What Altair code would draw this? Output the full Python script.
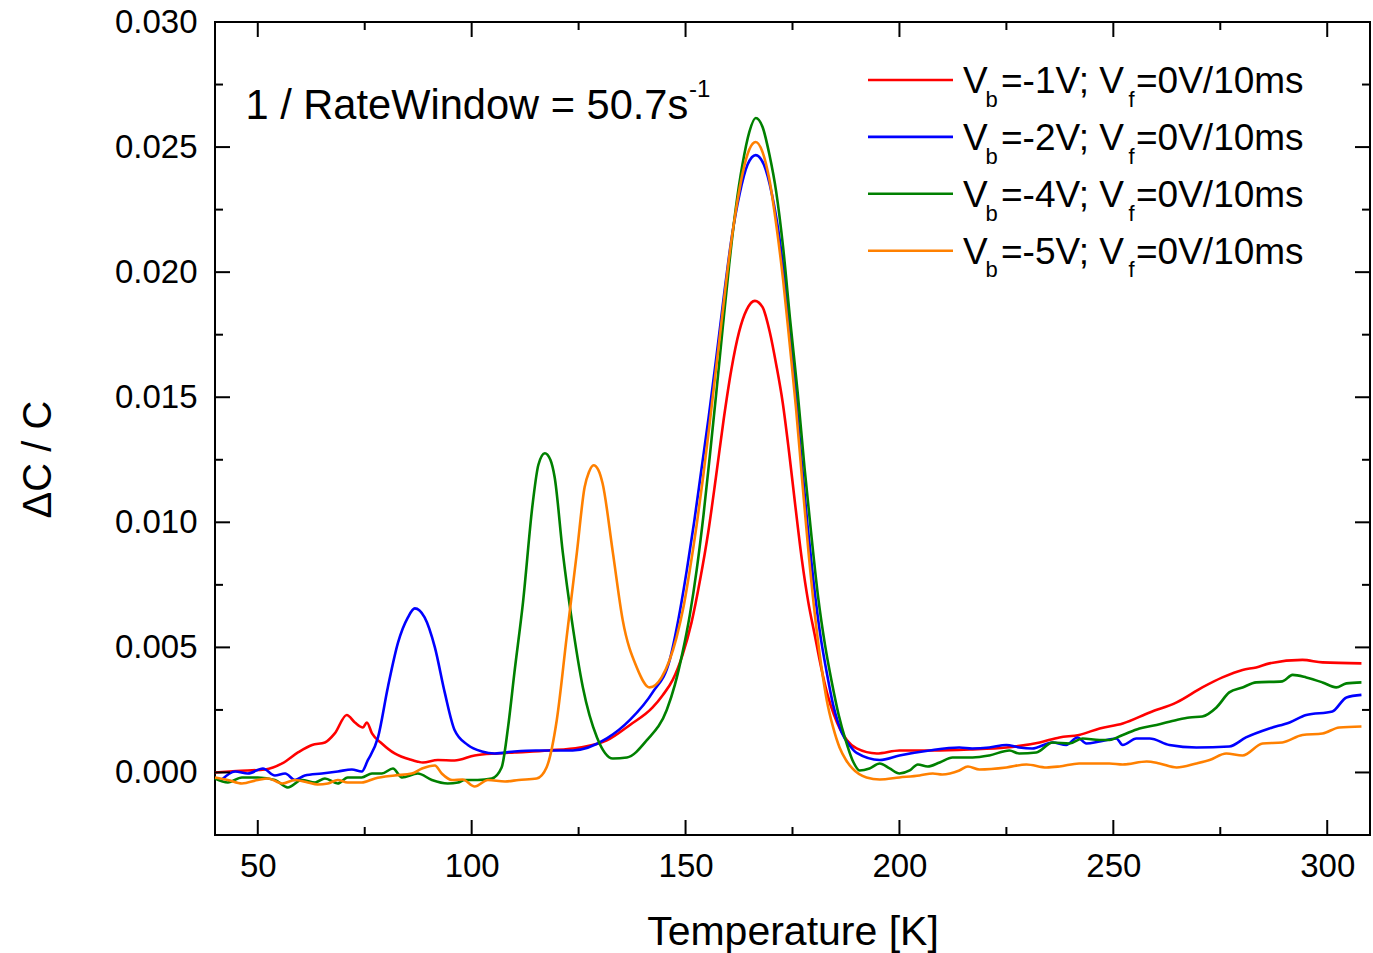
import altair as alt
import pandas as pd

FONT = "Liberation Sans"

series_names = ["Vb=-1V", "Vb=-2V", "Vb=-4V", "Vb=-5V"]
series_colors = ["#ff0000", "#0000ff", "#008000", "#ff8000"]

red = [(40, 0.0), (45, 0.00006), (51.7, 0.00012), (55.7, 0.00036), (59.4, 0.0008), (62.7, 0.0011),
       (65.7, 0.0012), (68, 0.00156), (70.8, 0.0023), (72.7, 0.0020), (74.6, 0.0018), (75.5, 0.0020),
       (76.7, 0.00156), (79, 0.00116), (82, 0.00076), (86, 0.0005), (88.6, 0.0004), (92.1, 0.0005),
       (96, 0.00048), (100.7, 0.00068), (106, 0.00076), (110, 0.0008), (118, 0.00088), (125.3, 0.001),
       (131.6, 0.00128), (137, 0.0019), (142.3, 0.0026), (144.7, 0.0031), (147, 0.0037), (149.3, 0.0047),
       (151.4, 0.0060), (153.4, 0.0077), (155.3, 0.0096), (157.1, 0.0118), (158.9, 0.0141), (160.7, 0.0161),
       (162.5, 0.0176), (164.3, 0.0185), (166.2, 0.01885), (168, 0.0186), (169.7, 0.0176), (171.2, 0.0163),
       (172.7, 0.0148), (174.2, 0.0128), (175.7, 0.0106), (177.2, 0.0085), (178.7, 0.0068), (180.2, 0.0055),
       (181.7, 0.0042), (183.2, 0.0031), (184.7, 0.0023), (186.2, 0.0017), (187.7, 0.0013), (190, 0.00096),
       (194.7, 0.00076), (200, 0.00088), (207.8, 0.00088), (216.4, 0.00092), (225, 0.001), (232.8, 0.0012),
       (237.4, 0.0014), (242, 0.0015), (246.8, 0.00176), (252.2, 0.00196), (258.5, 0.0024), (264.8, 0.0028),
       (270.8, 0.0034), (275.5, 0.0038), (280.2, 0.0041), (283.4, 0.0042), (286.5, 0.00436), (294.2, 0.0045),
       (298.9, 0.0044), (308, 0.00436)]

blue = [(41.5, -0.0003), (44.7, 0.00004), (47.7, -0.00004), (51.2, 0.00016), (54, -0.00012), (56.4, -0.00004),
        (58.7, -0.0003), (61, -0.00012), (65, -0.00004), (68.7, 0.00004), (72, 0.00012), (74.3, 0.00004),
        (75.7, 0.00048), (78.1, 0.0014), (80.4, 0.0034), (82.8, 0.0052), (85.1, 0.0062), (86.7, 0.00656),
        (89, 0.0062), (91.4, 0.005), (93.7, 0.0032), (96, 0.0017), (99.1, 0.0011), (102.4, 0.00084),
        (105.4, 0.00076), (110, 0.00084), (115, 0.00088), (123.6, 0.00088), (131.6, 0.00136), (137, 0.0021),
        (142.3, 0.0032), (146.3, 0.0045), (148.3, 0.0061), (150.3, 0.0081), (152, 0.0100), (153.7, 0.0121),
        (155.4, 0.0142), (157.2, 0.0166), (159, 0.0191), (160.8, 0.0214), (162.6, 0.0231), (164.5, 0.0243),
        (166.4, 0.02468), (168.3, 0.0243), (170.2, 0.0231), (172, 0.0213), (173.8, 0.0187), (175.5, 0.0157),
        (177, 0.0127), (178.5, 0.0099), (180, 0.0075), (181.5, 0.0055), (183, 0.0040), (184.5, 0.0027),
        (186.5, 0.0016), (188.5, 0.00105), (190, 0.00078), (195.4, 0.0005), (200, 0.00068), (207, 0.00088),
        (214, 0.001), (217, 0.00096), (221, 0.001), (225, 0.0011), (228, 0.001), (231, 0.00096), (235.8, 0.0012),
        (239, 0.0011), (241.6, 0.0014), (243.7, 0.00116), (246.8, 0.00124), (250.7, 0.00136), (252.2, 0.0011),
        (255.4, 0.00136), (258.5, 0.00136), (263.1, 0.0011), (269.4, 0.001), (277.1, 0.00104), (281, 0.0014),
        (286.5, 0.00176), (291.2, 0.002), (295.1, 0.0023), (301.2, 0.00244), (304.5, 0.003), (308, 0.0031)]

green = [(40, -0.00024), (43, -0.0004), (46.3, -0.0002), (50, -0.0002), (54, -0.0003), (57, -0.0006),
         (60.3, -0.0003), (63.4, -0.0004), (65.7, -0.00024), (68.7, -0.00044), (71, -0.0002), (74.3, -0.0002),
         (76.7, -0.00004), (79, -0.00004), (81.6, 0.00016), (83.7, -0.0002), (87.4, -0.00004), (90.7, -0.0003),
         (94.4, -0.00044), (96.8, -0.0004), (98.4, -0.0003), (101.4, -0.0003), (104.7, -0.00024), (107, 0.0002),
         (108.5, 0.0018), (110, 0.004), (112, 0.0068), (114.3, 0.0108), (115.6, 0.0123), (117.1, 0.01276),
         (118.4, 0.0125), (119.4, 0.0118), (121.3, 0.0088), (123.4, 0.0061), (126, 0.0034), (129.3, 0.0014),
         (133, 0.00056), (136.3, 0.0006), (140.9, 0.00128), (145.6, 0.0025), (147.5, 0.0035), (149.3, 0.0048),
         (151, 0.0063), (152.6, 0.0081), (154.2, 0.0103), (155.7, 0.0127), (157.2, 0.0152), (158.7, 0.0178),
         (160.2, 0.0203), (161.7, 0.0225), (163.3, 0.0243), (164.9, 0.0256), (166.4, 0.02616), (168, 0.0258),
         (169.6, 0.0247), (171.2, 0.0232), (172.8, 0.0210), (174.5, 0.0180), (176.2, 0.0152), (177.8, 0.0122),
         (179.4, 0.0095), (181, 0.0070), (182.6, 0.0051), (184.2, 0.0036), (185.8, 0.0023), (187.4, 0.0013),
         (189, 0.0005), (190.7, 0.00008), (193, 0.00016), (195.4, 0.00036), (197.7, 0.00016), (200, -0.00004),
         (202.4, 0.00008), (204.3, 0.00032), (206.6, 0.00024), (209.4, 0.0004), (212.4, 0.0006), (217.1, 0.0006),
         (221, 0.00068), (225.7, 0.00088), (228, 0.00076), (232, 0.0008), (235.8, 0.0012), (239.8, 0.00116),
         (242.8, 0.00136), (246.8, 0.0013), (249.1, 0.0013), (252.2, 0.0015), (256.1, 0.00176), (260.1, 0.0019),
         (264.8, 0.0021), (267.8, 0.0022), (270.8, 0.00224), (274.1, 0.0026), (277.1, 0.0032), (280.2, 0.0034),
         (283.4, 0.0036), (289.5, 0.00364), (291.9, 0.0039), (295.1, 0.0038), (298.9, 0.0036), (302.1, 0.0034),
         (304.5, 0.00356), (308, 0.0036)]

orange = [(40, -0.0002), (43, -0.0003), (46.3, -0.00044), (50, -0.0003), (52.4, -0.00024), (55.7, -0.00044),
          (58.7, -0.0003), (61.7, -0.0004), (64, -0.00048), (66.4, -0.00044), (68.7, -0.0003), (71, -0.0004),
          (74.3, -0.0004), (77.4, -0.00024), (82, -0.00012), (86, -0.00004), (88.4, 0.00016), (91.4, 0.00028),
          (93, -0.00004), (95.4, -0.0003), (97.9, -0.00028), (100.7, -0.00056), (103.8, -0.0003), (107.8, -0.00036),
          (111, -0.0003), (115.2, -0.00024), (117.5, 0.0002), (119.9, 0.0021), (122.2, 0.0054), (124.6, 0.0088),
          (126.4, 0.0114), (127.4, 0.0120), (128.5, 0.01228), (129.6, 0.0121), (130.6, 0.01156), (133, 0.0088),
          (135.3, 0.0061), (138.6, 0.0042), (141.6, 0.0034), (144.4, 0.0038), (147.9, 0.0054), (149.5, 0.0066),
          (151, 0.0081), (152.6, 0.0099), (154.1, 0.0118), (155.6, 0.0139), (157.1, 0.0161), (158.6, 0.0183),
          (160.2, 0.0206), (161.8, 0.0225), (163.4, 0.0240), (164.9, 0.0249), (166.4, 0.0252), (168, 0.0248),
          (169.6, 0.0237), (171.2, 0.0219), (172.8, 0.0197), (174.3, 0.0172), (175.8, 0.0146), (177.3, 0.0116),
          (178.8, 0.0087), (180.3, 0.0062), (181.7, 0.0043), (183, 0.0029), (184.5, 0.0018), (186, 0.0010),
          (187.5, 0.0005), (189, 0.00016), (192.3, -0.0002), (195.4, -0.00028), (200, -0.0002), (204.7, -0.00012),
          (207.8, -0.00004), (210, -0.00008), (214, 0.00008), (216, 0.00024), (218.7, 0.00012), (225, 0.0002),
          (229.7, 0.00032), (234.4, 0.0002), (237.4, 0.00024), (242, 0.00036), (246.8, 0.00036), (249.1, 0.00036),
          (252.2, 0.00032), (257.8, 0.00044), (260.8, 0.00036), (264.8, 0.0002), (269.4, 0.00036), (272.5, 0.0005),
          (276.4, 0.00076), (280.2, 0.00068), (284.9, 0.00116), (289.5, 0.0012), (294.2, 0.0015), (298.9, 0.00156),
          (302.8, 0.0018), (308, 0.00184)]

x_major = [50, 100, 150, 200, 250, 300]
x_minor = [75, 125, 175, 225, 275]
y_major = [0.0, 0.005, 0.010, 0.015, 0.020, 0.025, 0.030]
y_minor = [0.0025, 0.0075, 0.0125, 0.0175, 0.0225, 0.0275]

legend_bias = ["1", "2", "4", "5"]
annotation_main = "1 / RateWindow = 50.7s"
annotation_sup = "-1"

# ---------------------------------------------------------------- layout
W, H = 1155, 813
MAJOR, MINOR = 15, 8

rows = []
for name, pts in zip(series_names, [red, blue, green, orange]):
    for t, v in pts:
        rows.append({"series": name, "T": t, "V": v})
df = pd.DataFrame(rows)

xs = alt.Scale(domain=[40, 310], nice=False, zero=False)
ys = alt.Scale(domain=[-0.0025, 0.030], nice=False, zero=False)
cscale = alt.Scale(domain=series_names, range=series_colors)

xaxis = alt.Axis(values=x_major, format="d", title="Temperature [K]", titleFont=FONT, titleFontSize=41,
                 titleFontWeight="normal", titleColor="black", labelFont=FONT, labelFontSize=33,
                 labelColor="black", labelPadding=15, ticks=False, tickSize=0, domain=False, grid=False,
                 labelOverlap=False, labelFlush=False, titleY=97, titleBaseline="middle")
yaxis = alt.Axis(values=y_major, format=".3f", title="ΔC / C", titleFont=FONT, titleFontSize=40,
                 titleFontWeight="normal", titleColor="black", labelFont=FONT, labelFontSize=33,
                 labelColor="black", labelPadding=18, ticks=False, tickSize=0, domain=False, grid=False,
                 labelOverlap=False, labelFlush=False, titleAngle=270, titleX=-177, titleY=437,
                 titleAlign="center", titleBaseline="middle")


def X(field="T"):
    return alt.X(f"{field}:Q", scale=xs, axis=xaxis)


def Y(field="V"):
    return alt.Y(f"{field}:Q", scale=ys, axis=yaxis)


lines = alt.Chart(df).mark_line(strokeWidth=2.6, interpolate="monotone").encode(
    x=X(), y=Y(),
    color=alt.Color("series:N", scale=cscale, legend=None),
    detail="series:N",
)

layers = [lines]
for vals, ln in [(x_major, MAJOR), (x_minor, MINOR)]:
    d = pd.DataFrame({"T": vals})
    layers.append(alt.Chart(d).mark_rule(color="black", strokeWidth=2).encode(
        x=X(), y=alt.value(H), y2=alt.value(H - ln)))
    layers.append(alt.Chart(d).mark_rule(color="black", strokeWidth=2).encode(
        x=X(), y=alt.value(0), y2=alt.value(ln)))
for vals, ln in [(y_major, MAJOR), (y_minor, MINOR)]:
    d = pd.DataFrame({"V": vals})
    layers.append(alt.Chart(d).mark_rule(color="black", strokeWidth=2).encode(
        y=Y(), x=alt.value(0), x2=alt.value(ln)))
    layers.append(alt.Chart(d).mark_rule(color="black", strokeWidth=2).encode(
        y=Y(), x=alt.value(W), x2=alt.value(W - ln)))

# legend (custom, to allow subscripts)
ROW = 56.9
leg_lines = pd.DataFrame({"series": series_names,
                          "ly": [58 + ROW * i for i in range(4)]})
layers.append(alt.Chart(leg_lines).mark_rule(strokeWidth=2.6).encode(
    x=alt.value(653), x2=alt.value(738), y=alt.Y("ly:Q", scale=None),
    color=alt.Color("series:N", scale=cscale, legend=None)))

texts = []
for i, b in enumerate(legend_bias):
    base = 71.3 + ROW * i
    sub = base + 13.4
    texts += [
        {"txt": "V", "px": 748, "py": base, "fs": 37},
        {"txt": "b", "px": 770.5, "py": sub, "fs": 22},
        {"txt": f"=-{b}V; V", "px": 786, "py": base, "fs": 37},
        {"txt": "f", "px": 913.5, "py": sub, "fs": 22},
        {"txt": "=0V/10ms", "px": 921, "py": base, "fs": 37},
    ]
texts.append({"txt": annotation_main, "px": 30.5, "py": 96.5, "fs": 41.6})
texts.append({"txt": annotation_sup, "px": 474, "py": 75, "fs": 24})
tdf = pd.DataFrame(texts)
layers.append(alt.Chart(tdf).mark_text(font=FONT, align="left", baseline="alphabetic", color="black").encode(
    x=alt.X("px:Q", scale=None), y=alt.Y("py:Q", scale=None),
    text="txt:N", size=alt.Size("fs:Q", scale=None, legend=None)))

chart = alt.layer(*layers).properties(
    width=W, height=H,
    padding={"left": 215, "top": 22, "right": 3, "bottom": 118},
    autosize=alt.AutoSizeParams(type="none"),
    background="white",
).configure_view(stroke="black", strokeWidth=2)

chart.save("out.html", embed_options={"renderer": "svg", "actions": False})
